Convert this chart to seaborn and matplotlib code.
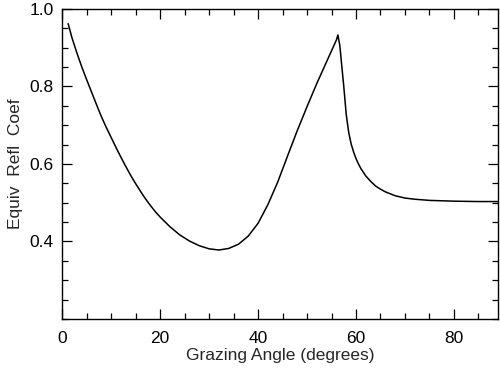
import matplotlib
matplotlib.use("Agg")
import matplotlib.pyplot as plt
import seaborn as sns
import pandas as pd
from matplotlib.ticker import MultipleLocator

angle = [1.2, 2, 3, 4, 5, 6, 7, 8, 9, 10, 11, 12, 13, 14, 15, 16, 17, 18, 19, 20,
         22, 24, 26, 28, 30, 32, 34, 36, 38, 40, 42, 44, 46, 48, 50, 52, 54, 55, 56,
         56.3, 56.7, 57, 57.5, 58, 58.5, 59, 59.5, 60, 60.5, 61, 62, 63, 64, 65, 66,
         68, 70, 72, 75, 80, 85, 89]
coef = [0.962, 0.925, 0.886, 0.850, 0.817, 0.785, 0.753, 0.722, 0.694, 0.668, 0.642,
        0.617, 0.593, 0.570, 0.549, 0.529, 0.510, 0.493, 0.477, 0.463, 0.438, 0.417,
        0.401, 0.389, 0.381, 0.378, 0.382, 0.393, 0.414, 0.447, 0.495, 0.553, 0.620,
        0.686, 0.748, 0.808, 0.864, 0.892, 0.920, 0.933, 0.905, 0.865, 0.800, 0.728,
        0.682, 0.652, 0.631, 0.614, 0.600, 0.588, 0.569, 0.555, 0.543, 0.535, 0.528,
        0.518, 0.512, 0.509, 0.506, 0.504, 0.503, 0.503]

ytick_vals = [0.4, 0.6, 0.8, 1.0]
ytick_labels = ["0.4", "0.6", "0.8", "1.0"]
xtick_vals = [0, 20, 40, 60, 80]

df = pd.DataFrame({"angle": angle, "coef": coef})

sns.set_style("ticks")
plt.rcParams["font.family"] = ["Liberation Sans", "DejaVu Sans"]

fig = plt.figure(figsize=(5.0, 3.72), dpi=100)
ax = fig.add_axes([0.1245, 0.1425, 0.8715, 0.8335])

sns.lineplot(data=df, x="angle", y="coef", color="black", linewidth=1.1, ax=ax)

ax.set_xlim(0, 89)
ax.set_ylim(0.2, 1.0)
ax.set_xticks(xtick_vals)
ax.set_xticklabels([str(v) for v in xtick_vals])
ax.set_yticks(ytick_vals)
ax.set_yticklabels(ytick_labels)
ax.xaxis.set_minor_locator(MultipleLocator(5))
ax.yaxis.set_minor_locator(MultipleLocator(0.05))

ax.tick_params(which="both", direction="in", top=True, right=True, colors="black",
               labelsize=12.5, width=0.9)
ax.tick_params(which="major", length=7)
ax.tick_params(axis="x", which="major", pad=9)
ax.tick_params(axis="y", which="major", pad=6)
ax.tick_params(which="minor", length=4)

for s in ax.spines.values():
    s.set_visible(True)
    s.set_color("black")
    s.set_linewidth(1.0)

ax.set_xlabel("Grazing Angle (degrees)", fontsize=12.5, labelpad=1)
ax.set_ylabel("Equiv  Refl  Coef", fontsize=12.5, labelpad=5)

fig.savefig("out.png", dpi=100, facecolor="white")
